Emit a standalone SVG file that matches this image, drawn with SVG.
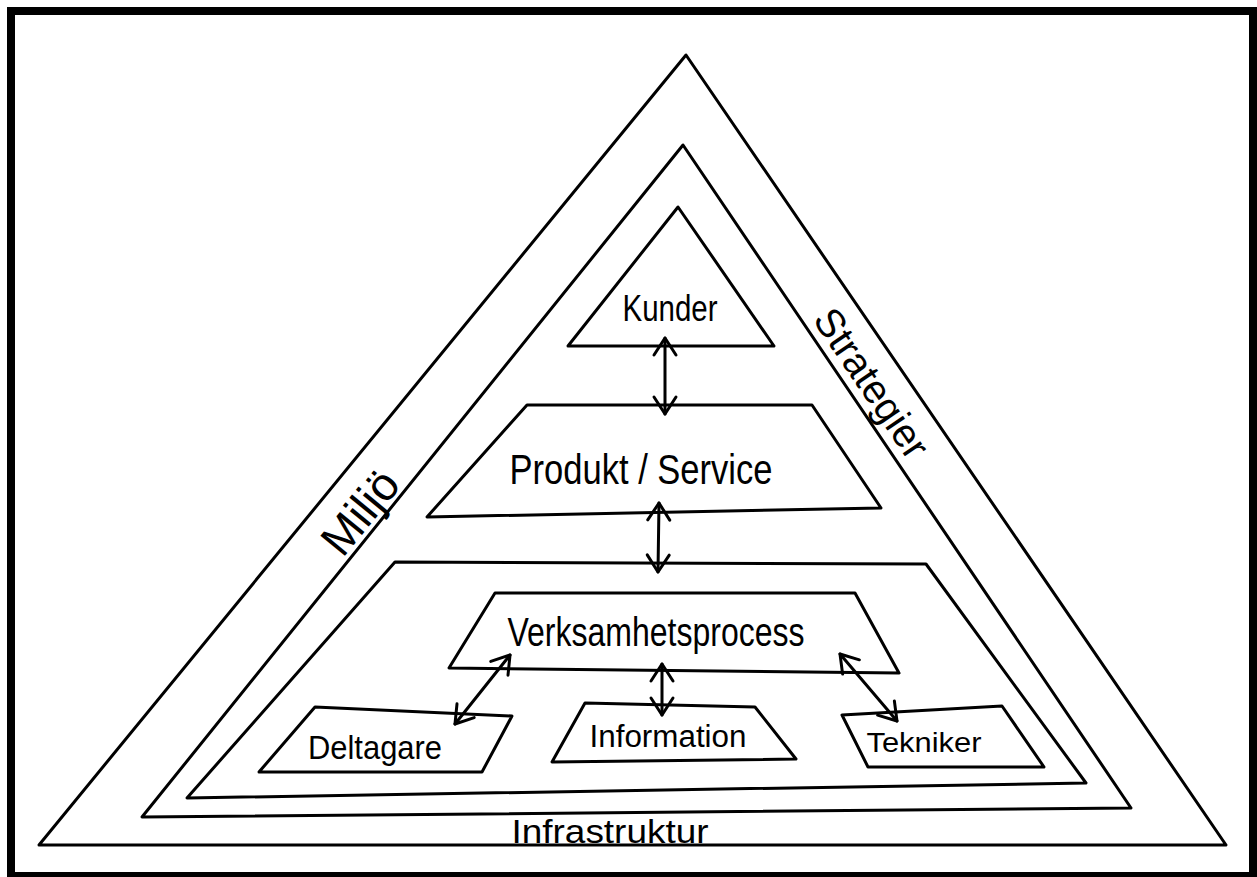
<svg xmlns="http://www.w3.org/2000/svg" width="1257" height="877" viewBox="0 0 1257 877">
  <style>
    .shape { fill: none; stroke: #000; stroke-width: 3; stroke-linejoin: round; }
    .conn { fill: none; stroke: #000; stroke-width: 3; stroke-linecap: round; }
    .lbl { font-family: "Liberation Sans", Arial, sans-serif; fill: #000; text-anchor: middle; }
  </style>
  <defs>
    <marker id="ah" markerUnits="userSpaceOnUse" markerWidth="40" markerHeight="40" viewBox="-20 -20 40 40" refX="0" refY="0" orient="auto-start-reverse" overflow="visible">
      <path d="M-17,-11 L0,0 L-17,11" fill="none" stroke="#000" stroke-width="3" stroke-linecap="round" stroke-linejoin="round"/>
    </marker>
  </defs>

  <!-- frame -->
  <rect x="0" y="0" width="1257" height="877" fill="#fff"/>
  <rect x="7" y="7" width="1250" height="870" fill="#000"/>
  <rect x="15" y="15" width="1234" height="857" fill="#fff"/>

  <g id="environment">
    <path class="shape" d="M39,845 L686,55 L1226,845 Z"/>
    <text class="lbl" font-size="34" x="610" y="843" textLength="197" lengthAdjust="spacingAndGlyphs">Infrastruktur</text>
  </g>

  <g id="strategy-layer">
    <path class="shape" d="M142,817 L683,145 L1131,808 Z"/>
    <g transform="translate(360,512) rotate(-50.7)">
      <text class="lbl" font-size="46" x="0" y="16">Miljö</text>
    </g>
    <g transform="translate(872,383) rotate(55.8)">
      <text class="lbl" font-size="40" x="0" y="14" textLength="172" lengthAdjust="spacingAndGlyphs">Strategier</text>
    </g>
  </g>

  <g id="kunder">
    <path class="shape" d="M568,346 L678,207 L774,346 Z"/>
    <text class="lbl" font-size="36" x="670" y="321" textLength="95" lengthAdjust="spacingAndGlyphs">Kunder</text>
  </g>

  <g id="produkt-service">
    <path class="shape" d="M527,405 L812,405 L881,508 L427,517 Z"/>
    <text class="lbl" font-size="42" x="641" y="484" textLength="263" lengthAdjust="spacingAndGlyphs">Produkt / Service</text>
  </g>

  <g id="business-layer">
    <path class="shape" d="M395,562 L926,564 L1086,783 L187,798 Z"/>
  </g>

  <g id="verksamhetsprocess">
    <path class="shape" d="M495,593 L855,593 L899,673 L449,668 Z"/>
    <text class="lbl" font-size="40" x="656" y="646" textLength="297" lengthAdjust="spacingAndGlyphs">Verksamhetsprocess</text>
  </g>

  <g id="deltagare">
    <path class="shape" d="M315,707 L512,716 L482,772 L259,772 Z"/>
    <text class="lbl" font-size="33" x="375" y="759" textLength="134" lengthAdjust="spacingAndGlyphs">Deltagare</text>
  </g>

  <g id="information">
    <path class="shape" d="M585,703 L755,707 L796,759 L552,762 Z"/>
    <text class="lbl" font-size="31" x="668" y="747" textLength="157" lengthAdjust="spacingAndGlyphs">Information</text>
  </g>

  <g id="tekniker">
    <path class="shape" d="M842,715 L1002,706 L1044,767 L868,767 Z"/>
    <text class="lbl" font-size="28" x="924" y="752" textLength="115" lengthAdjust="spacingAndGlyphs">Tekniker</text>
  </g>

  <g id="connectors">
    <path class="conn" d="M665,338 L665,414" marker-start="url(#ah)" marker-end="url(#ah)"/>
    <path class="conn" d="M659,503 L658,572" marker-start="url(#ah)" marker-end="url(#ah)"/>
    <path class="conn" d="M510,655 L455,724" marker-start="url(#ah)" marker-end="url(#ah)"/>
    <path class="conn" d="M662,664 L662,715" marker-start="url(#ah)" marker-end="url(#ah)"/>
    <path class="conn" d="M840,654 L897,721" marker-start="url(#ah)" marker-end="url(#ah)"/>
  </g>
</svg>
